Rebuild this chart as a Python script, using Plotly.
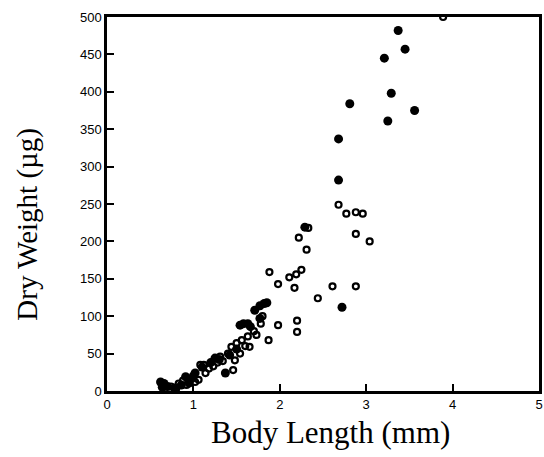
import plotly.graph_objects as go

# Filled circles (one group)
filled_x = [0.62, 0.66, 0.64, 0.70, 0.78, 0.86, 0.91, 0.95, 1.02, 1.00, 1.10, 1.20, 1.25, 1.30,
            1.37, 1.42, 1.50, 1.54, 1.58, 1.63, 1.66, 1.71, 1.77, 1.82, 1.77, 1.85, 2.29, 2.68,
            2.68, 2.72, 2.81, 3.21, 3.25, 3.29, 3.37, 3.45, 3.56]
filled_y = [12, 10, 5, 6, 4, 8, 19, 12, 24, 20, 32, 38, 44, 42,
            24, 48, 56, 88, 90, 90, 86, 108, 114, 117, 97, 118, 219, 282,
            337, 112, 384, 445, 361, 398, 482, 457, 375]

# Open circles (other group)
open_x = [0.68, 0.74, 0.80, 0.83, 0.88, 0.92, 0.95, 0.98, 1.02, 1.06, 1.08, 1.12, 1.14, 1.18,
          1.23, 1.28, 1.31, 1.34, 1.40, 1.44, 1.46, 1.48, 1.50, 1.54, 1.56, 1.60, 1.63, 1.65,
          1.70, 1.73, 1.78, 1.80, 1.87, 1.88, 1.98, 1.98, 2.11, 2.17, 2.19, 2.20, 2.20, 2.22,
          2.25, 2.31, 2.33, 2.44, 2.61, 2.68, 2.77, 2.88, 2.88, 2.88, 2.96, 3.04, 3.89]
open_y = [6, 6, 3, 10, 14, 8, 10, 16, 12, 15, 35, 35, 24, 30,
          33, 38, 46, 40, 50, 59, 28, 41, 64, 50, 68, 60, 73, 59,
          80, 75, 90, 100, 68, 159, 143, 88, 152, 138, 156, 94, 79, 205,
          162, 189, 218, 124, 140, 249, 237, 239, 210, 140, 237, 200, 500]

x_ticks = [0, 1, 2, 3, 4, 5]
y_ticks = [0, 50, 100, 150, 200, 250, 300, 350, 400, 450, 500]
x_title = "Body Length (mm)"
y_title = "Dry Weight (µg)"

fig = go.Figure()
fig.add_trace(go.Scatter(x=open_x, y=open_y, mode="markers",
                         marker=dict(symbol="circle-open", size=6, color="black",
                                     line=dict(width=2.2, color="black")),
                         showlegend=False))
fig.add_trace(go.Scatter(x=filled_x, y=filled_y, mode="markers",
                         marker=dict(symbol="circle", size=9, color="black",
                                     line=dict(width=0)),
                         showlegend=False))

axis_common = dict(showline=True, linecolor="black", linewidth=2.5, mirror=True,
                   ticks="inside", ticklen=7, tickwidth=2, tickcolor="black",
                   showgrid=False, zeroline=False,
                   tickfont=dict(family="Liberation Sans, Arial, sans-serif", size=13, color="black"))

fig.update_xaxes(range=[0, 5], tickvals=x_ticks, ticktext=[str(v) for v in x_ticks], **axis_common)
fig.update_yaxes(range=[0, 500], tickvals=y_ticks, ticktext=[str(v) for v in y_ticks], **axis_common)

fig.update_layout(
    width=544, height=457,
    margin=dict(l=107, r=2, t=17, b=66),
    paper_bgcolor="white", plot_bgcolor="white",
    annotations=[
        dict(text=x_title, xref="paper", yref="paper", x=0.517, y=-0.112,
             xanchor="center", yanchor="middle", showarrow=False,
             font=dict(family="Liberation Serif, Times New Roman, serif", size=31, color="black")),
        dict(text=y_title, xref="paper", yref="paper", x=-0.184, y=0.446,
             xanchor="center", yanchor="middle", showarrow=False, textangle=-90,
             font=dict(family="Liberation Serif, Times New Roman, serif", size=29, color="black")),
    ],
)

fig.write_html("out.html")
